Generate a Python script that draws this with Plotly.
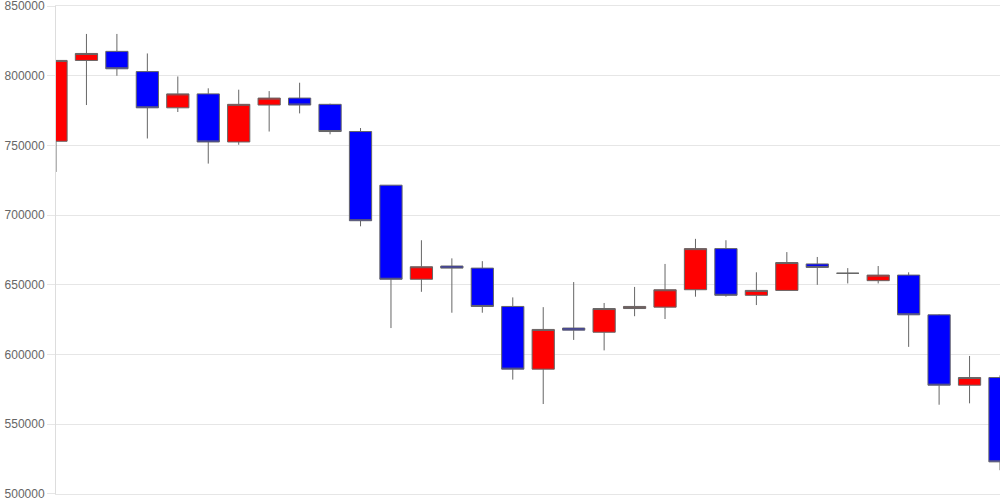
import plotly.graph_objects as go

idx = list(range(32))
opens = [753000, 811000, 817500, 803000, 777000, 787000, 752500, 779000, 784000, 779500,
         760000, 721500, 654000, 663500, 662000, 634500, 589500, 619000, 616000, 633000,
         634000, 646500, 676000, 642500, 646000, 665000, 658300, 653000, 657000, 628500,
         578000, 583500]
highs = [811000, 830000, 830000, 816000, 799500, 791000, 790000, 789000, 795000, 780000,
         762500, 721500, 682000, 669000, 667000, 641000, 634000, 652000, 637000, 648500,
         665000, 683000, 682000, 659000, 673500, 670000, 662000, 663500, 659000, 629000,
         599000, 585000]
lows = [731000, 779000, 800000, 755000, 774000, 737000, 750500, 760000, 773000, 758000,
        692000, 619000, 645000, 630000, 630000, 582000, 564500, 610500, 603000, 627500,
        625500, 641500, 641500, 635500, 646000, 650000, 651000, 651000, 605500, 564000,
        565000, 517000]
closes = [811000, 816000, 805000, 777000, 787000, 752500, 779500, 784000, 779000, 760000,
          696000, 654000, 663000, 662000, 634500, 589500, 618000, 617500, 633000, 634500,
          646500, 676000, 642500, 646000, 666000, 662500, 658300, 657000, 628500, 578000,
          583500, 523000]
y_ticks = [500000, 550000, 600000, 650000, 700000, 750000, 800000, 850000]

fig = go.Figure(go.Candlestick(
    x=idx, open=opens, high=highs, low=lows, close=closes,
    increasing=dict(fillcolor="#ff0000", line=dict(color="#666666", width=1)),
    decreasing=dict(fillcolor="#0000ff", line=dict(color="#666666", width=1)),
    whiskerwidth=0,
    showlegend=False,
))

fig.update_layout(
    width=1000, height=500,
    margin=dict(l=56, r=0, t=6, b=6),
    boxgap=0.27, boxgroupgap=0,
    paper_bgcolor="white", plot_bgcolor="white",
    font=dict(family="Liberation Sans, Arial, sans-serif", size=12, color="#666666"),
    xaxis=dict(range=[0, 31], showticklabels=False, showgrid=False, zeroline=False,
               rangeslider=dict(visible=False), fixedrange=True,
               showline=True, linecolor="#e6e6e6", linewidth=1, mirror=True),
    yaxis=dict(range=[499950, 850050], tickvals=y_ticks, ticktext=[str(v) for v in y_ticks],
               showgrid=True, gridcolor="#e6e6e6", gridwidth=1, zeroline=False,
               showline=True, linecolor="#dddddd", linewidth=1, automargin=False,
               ticks="outside", ticklen=8, tickcolor="#e6e6e6",
               ticklabeloverflow="allow",
               tickfont=dict(size=12, color="#666666")),
)

fig.write_html("out.html", config={"displayModeBar": False},
               post_script="document.body.style.margin='0';document.body.style.overflow='hidden';")
